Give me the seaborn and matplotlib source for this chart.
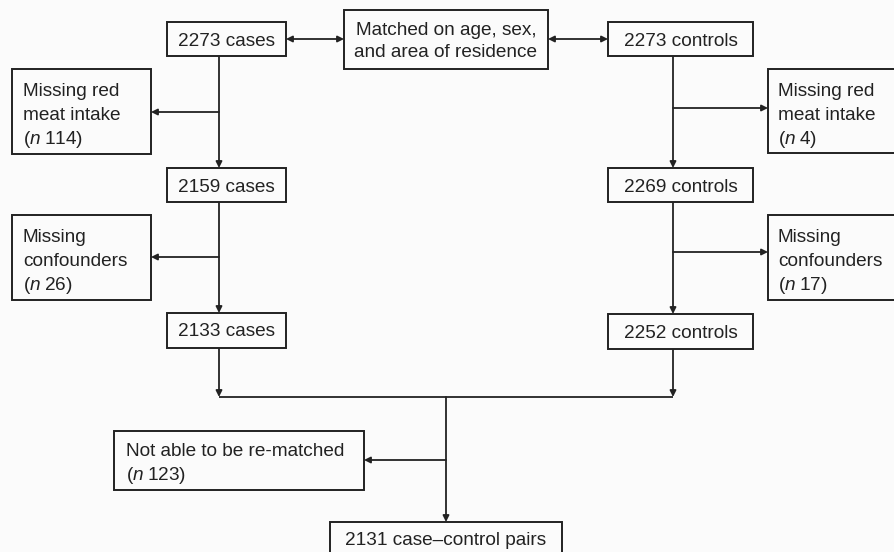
import matplotlib
matplotlib.use("Agg")
import matplotlib.pyplot as plt
from matplotlib.patches import Rectangle
import seaborn as sns

# data of the flowchart
cases = [2273, 2159, 2133]
controls = [2273, 2269, 2252]
missing_cases = [114, 26]
missing_controls = [4, 17]
missing_reasons = [["Missing red", "meat intake"], ["Missing", "confounders"]]
not_rematched = 123
pairs = 2131
matched_on = ["Matched on age, sex,", "and area of residence"]

sns.set_theme(style="white")
plt.rcParams['font.family'] = ['Liberation Sans', 'DejaVu Sans']
plt.rcParams['mathtext.fontset'] = 'custom'
plt.rcParams['mathtext.rm'] = 'Liberation Sans'
plt.rcParams['mathtext.it'] = 'Liberation Sans:italic'

INK = "#222222"
BG = "#fbfbfb"
FS = 13.7

fig = plt.figure(figsize=(8.95, 5.52), dpi=100)
fig.patch.set_facecolor(BG)
ax = fig.add_axes([0, 0, 1, 1])
ax.set_facecolor(BG)
ax.set_xlim(0, 895)
ax.set_ylim(552, 0)
ax.axis("off")


def n_label(v):
    return r"$(n\;%d)$" % v


def box(x0, y0, x1, y1, lines, first=23.5, step=23.5, align="center", pad=11):
    ax.add_patch(Rectangle((x0, y0), x1 - x0, y1 - y0, fill=True,
                           facecolor=BG, edgecolor=INK, lw=1.4, zorder=2))
    if isinstance(lines, str):
        lines = [lines]
    x = (x0 + x1) / 2 if align == "center" else x0 + pad
    for k, t in enumerate(lines):
        ax.text(x, y0 + first + k * step, t, ha=align, va="baseline",
                fontsize=FS, color=INK, zorder=3)


def line(xs, ys):
    ax.plot(xs, ys, color=INK, lw=1.3, zorder=1, solid_capstyle="butt")


def arrow(x0, y0, x1, y1, both=False):
    ax.annotate("", xy=(x1, y1), xytext=(x0, y0),
                arrowprops=dict(arrowstyle="<|-|>" if both else "-|>",
                                mutation_scale=9, lw=1.3, color=INK,
                                shrinkA=0, shrinkB=0), zorder=1)


# top row
box(167, 22, 286, 56, f"{cases[0]} cases")
box(344, 10, 548, 69, matched_on, first=25, step=22)
box(608, 22, 753, 56, f"{controls[0]} controls")
arrow(286, 39, 344, 39, both=True)
arrow(548, 39, 608, 39, both=True)

# cases column
cx = 219
case_boxes = [(22, 56), (168, 202), (313, 348)]
left_boxes = [(69, 154), (215, 300)]
left_arrow_y = [112, 257]
for i in range(2):
    box(12, left_boxes[i][0], 151, left_boxes[i][1],
        missing_reasons[i] + [n_label(missing_cases[i])],
        first=27.5, step=23.5, align="left")
    arrow(cx, case_boxes[i][1], cx, case_boxes[i + 1][0])
    arrow(cx, left_arrow_y[i], 151, left_arrow_y[i])
for i in range(1, 3):
    box(167, case_boxes[i][0], 286, case_boxes[i][1], f"{cases[i]} cases")

# controls column
kx = 673
ctrl_boxes = [(22, 56), (168, 202), (314, 349)]
right_boxes = [(69, 153), (215, 300)]
right_arrow_y = [108, 252]
for i in range(2):
    box(768, right_boxes[i][0], 907, right_boxes[i][1],
        missing_reasons[i] + [n_label(missing_controls[i])],
        first=27.5, step=23.5, align="left", pad=10)
    arrow(kx, ctrl_boxes[i][1], kx, ctrl_boxes[i + 1][0])
    arrow(kx, right_arrow_y[i], 768, right_arrow_y[i])
for i in range(1, 3):
    box(608, ctrl_boxes[i][0], 753, ctrl_boxes[i][1], f"{controls[i]} controls")

# merge into pairs
arrow(cx, 348, cx, 397)
arrow(kx, 349, kx, 397)
line([cx, kx], [397, 397])
mx = 446
arrow(mx, 397, mx, 522)
box(114, 431, 364, 490, ["Not able to be re-matched", n_label(not_rematched)],
    first=25, step=24, align="left", pad=12)
arrow(mx, 460, 364, 460)
box(330, 522, 562, 562, f"{pairs} case\u2013control pairs", first=23)

fig.savefig("out.png", dpi=100, facecolor=fig.get_facecolor())
